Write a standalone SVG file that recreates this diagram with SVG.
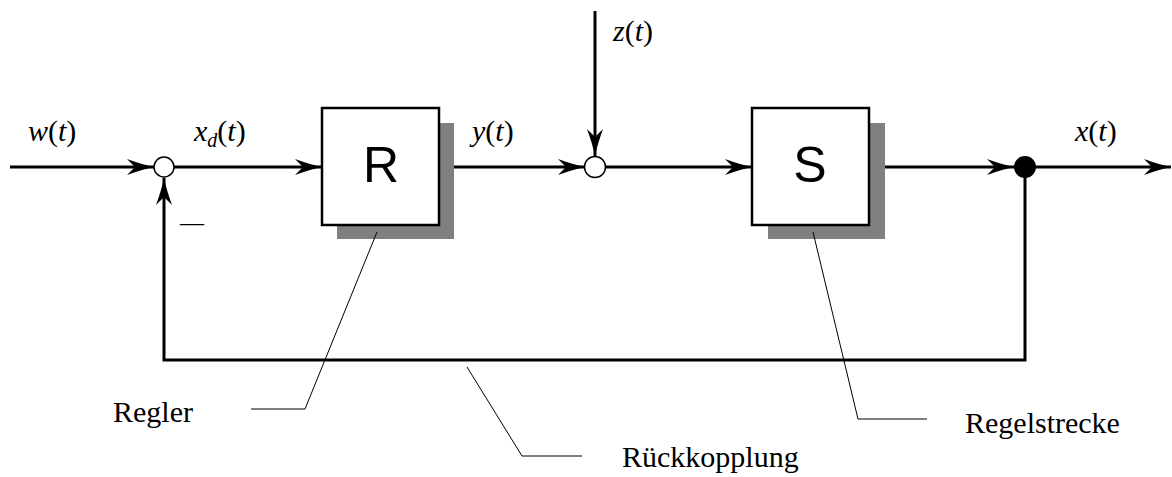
<svg xmlns="http://www.w3.org/2000/svg" width="1172" height="477" viewBox="0 0 1172 477">
<style>
.sig{fill:none;stroke:#000;stroke-width:3}
.lead{fill:none;stroke:#000;stroke-width:1}
.box{fill:#fff;stroke:#000;stroke-width:2.5}
.shadow{fill:#808080;stroke:none}
.lbl{font-family:"Liberation Serif","Times New Roman",serif;font-size:30px;fill:#000}
.math{font-family:"Liberation Serif","Times New Roman",serif;font-size:30px;fill:#000}
.i{font-style:italic}
.big{font-family:"Liberation Sans",Arial,sans-serif;font-size:50px;fill:#000;text-anchor:middle}
</style>
<defs>
<marker id="arr" markerUnits="userSpaceOnUse" markerWidth="30" markerHeight="20" viewBox="-28 -10 30 20" refX="0" refY="0" orient="auto" overflow="visible">
<path d="M0,0 Q-12,-2.5 -27,-8 L-19,0 L-27,8 Q-12,2.5 0,0 Z" fill="#000"/>
</marker>
</defs>
<g id="connectors">
<line class="sig" x1="10" y1="167" x2="154" y2="167" marker-end="url(#arr)"/>
<line class="sig" x1="174" y1="167" x2="322" y2="167" marker-end="url(#arr)"/>
<line class="sig" x1="454" y1="167" x2="585" y2="167" marker-end="url(#arr)"/>
<line class="sig" x1="595" y1="11" x2="595" y2="156" marker-end="url(#arr)"/>
<line class="sig" x1="605" y1="167" x2="752" y2="167" marker-end="url(#arr)"/>
<line class="sig" x1="885" y1="167" x2="1014" y2="167" marker-end="url(#arr)"/>
<line class="sig" x1="1036" y1="167" x2="1171" y2="167" marker-end="url(#arr)"/>
<polyline class="sig" points="1025,167 1025,360 164,360 164,178" marker-end="url(#arr)"/>
<line class="sig" x1="439" y1="167" x2="454" y2="167"/>
<line class="sig" x1="869" y1="167" x2="885" y2="167"/>
</g>
<g id="sum1">
<circle cx="164" cy="167" r="10" fill="#fff" stroke="#000" stroke-width="1.5"/>
<text class="math" x="180" y="230" font-size="24" style="font-size:24px">—</text>
</g>
<g id="sum2">
<circle cx="595" cy="167" r="10.5" fill="#fff" stroke="#000" stroke-width="1.5"/>
</g>
<g id="branch">
<circle cx="1025" cy="167" r="11" fill="#000"/>
</g>
<g id="R">
<rect class="shadow" x="337" y="123" width="117" height="116"/>
<rect class="box" x="322" y="108" width="117" height="117"/>
<text class="big" x="381" y="182">R</text>
</g>
<g id="S">
<rect class="shadow" x="768" y="123" width="117" height="116"/>
<rect class="box" x="752" y="108" width="117" height="117"/>
<text class="big" x="810" y="182">S</text>
</g>
<g id="signals">
<text class="math" x="28" y="141"><tspan class="i">w</tspan>(<tspan class="i">t</tspan>)</text>
<text class="math" x="194" y="141"><tspan class="i">x</tspan><tspan class="i" style="font-size:20px" dy="6">d</tspan><tspan dy="-6">(</tspan><tspan class="i">t</tspan>)</text>
<text class="math" x="472" y="141"><tspan class="i">y</tspan>(<tspan class="i">t</tspan>)</text>
<text class="math" x="613" y="41"><tspan class="i">z</tspan>(<tspan class="i">t</tspan>)</text>
<text class="math" x="1075" y="141"><tspan class="i">x</tspan>(<tspan class="i">t</tspan>)</text>
</g>
<g id="annotations">
<polyline class="lead" points="377,232 305,409 251,409"/>
<text class="lbl" x="113" y="422">Regler</text>
<polyline class="lead" points="467,367 522,456 582,456"/>
<text class="lbl" x="622" y="467">Rückkopplung</text>
<polyline class="lead" points="813,232 858,419 927,419"/>
<text class="lbl" x="965" y="433">Regelstrecke</text>
</g>
</svg>
